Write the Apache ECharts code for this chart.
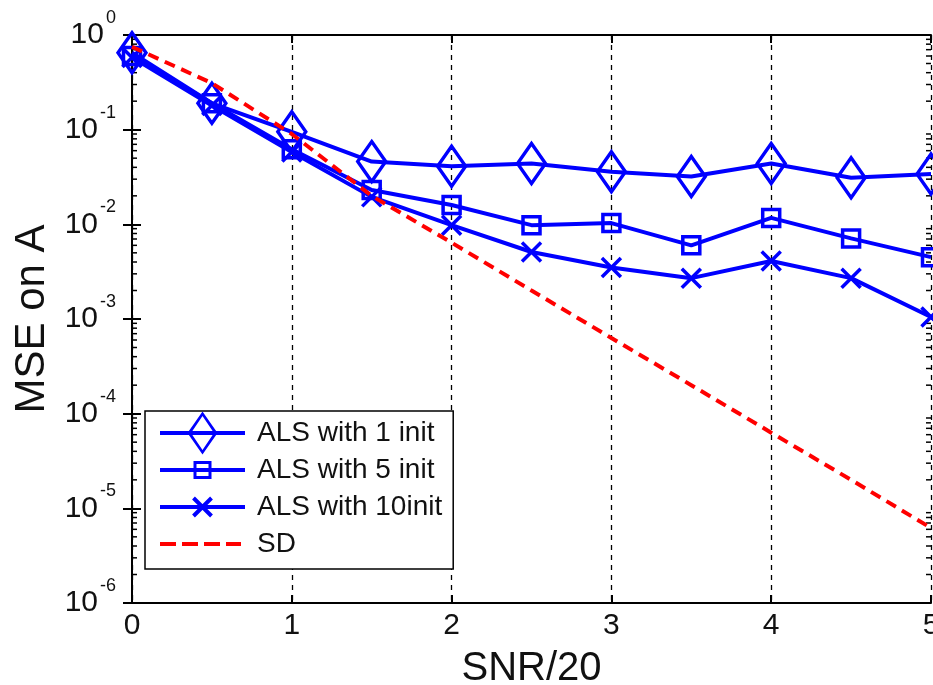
<!DOCTYPE html>
<html><head><meta charset="utf-8">
<script src="https://cdn.jsdelivr.net/npm/echarts@6/dist/echarts.min.js"></script>
<style>html,body{margin:0;padding:0;background:#fff}#c{width:933px;height:685px}</style>
</head><body><div id="c"></div>
<script>
var snr = [0, 0.5, 1, 1.5, 2, 2.5, 3, 3.5, 4, 4.5, 5];
var als1 = [0.65, 0.19, 0.095, 0.046, 0.041, 0.044, 0.036, 0.032, 0.044, 0.031, 0.034];
var als5 = [0.60, 0.19, 0.062, 0.023, 0.016, 0.0098, 0.0103, 0.0060, 0.0117, 0.0071, 0.0045];
var als10 = [0.58, 0.18, 0.058, 0.0195, 0.0098, 0.0051, 0.0035, 0.0027, 0.0041, 0.0027, 0.00105];
var sd = [0.75, 0.31, 0.09, 0.02, 0.0064, 0.002, 0.00063, 0.0002, 0.000063, 0.00002, 0.0000062];
var seriesNames = ['ALS with 1 init', 'ALS with 5 init', 'ALS with 10init', 'SD'];
var xTicks = [0, 1, 2, 3, 4, 5];

var minorVals = [];
for (var k = -6; k < 0; k++) for (var m = 2; m <= 9; m++) minorVals.push([m * Math.pow(10, k)]);

function pair(xs, ys) { return xs.map(function (x, i) { return [x, ys[i]]; }); }
var FONT = 'Liberation Sans, Arial, sans-serif';
var BLUE = '#0000ff';
var RED = '#ff0000';

// legend icons (line + marker), drawn in a 85 x 44 box
var BOUNDS = 'M0,0L0.01,0L0.01,0.01ZM84.99,43.99L85,43.99L85,44Z';
var LINE = 'M0,20L85,20L85,24L0,24Z';
var iconDiamond = 'path://' + BOUNDS + LINE +
  'M42.5,0.5L57.5,22L42.5,43.5L27.5,22Z' +
  'M42.5,5L31,22L42.5,39L54,22Z';
var iconSquare = 'path://' + BOUNDS + LINE +
  'M33.5,13L51.5,13L51.5,31L33.5,31Z' +
  'M36.5,16L36.5,28L48.5,28L48.5,16Z';
var iconCross = 'path://' + BOUNDS + LINE +
  'M34.9,11.6L52.9,29.6L50.1,32.4L32.1,14.4Z' +
  'M52.9,14.4L34.9,32.4L32.1,29.6L50.1,11.6Z';
var iconDash = 'path://' + BOUNDS +
  'M0,20L16,20L16,24L0,24Z' +
  'M22,20L38,20L38,24L22,24Z' +
  'M44,20L60,20L60,24L44,24Z' +
  'M66,20L81,20L81,24L66,24Z';

var chart = echarts.init(document.getElementById('c'));
var ylab = function (v) {
  var e = Math.round(Math.log10(v));
  return '{b|10}{s|' + e + '}';
};
chart.setOption({
  animation: false,
  backgroundColor: '#fff',
  textStyle: { fontFamily: FONT },
  grid: { left: 132, top: 35, right: 2, bottom: 82, containLabel: false, outerBoundsMode: 'none' },
  xAxis: [{
    type: 'value', min: 0, max: 5, interval: 1,
    name: 'SNR/20', nameLocation: 'middle', nameGap: 46,
    nameTextStyle: { fontSize: 40, color: '#111', fontFamily: FONT },
    axisLine: { onZero: false, lineStyle: { color: '#000', width: 2 } },
    axisTick: { inside: true, length: 8, lineStyle: { color: '#000', width: 2 } },
    axisLabel: { fontSize: 30, color: '#111', margin: 8, fontFamily: FONT },
    splitLine: { show: true, lineStyle: { color: '#000', type: [5, 5], width: 1.3 } }
  }, {
    type: 'value', min: 0, max: 5, interval: 1, position: 'top',
    axisLine: { onZero: false, lineStyle: { color: '#000', width: 2 } },
    axisTick: { inside: true, length: 8, lineStyle: { color: '#000', width: 2 } },
    axisLabel: { show: false }, splitLine: { show: false }
  }],
  yAxis: [{
    type: 'log', min: 1e-6, max: 1, logBase: 10, interval: 1,
    name: 'MSE on A', nameLocation: 'middle', nameGap: 76, nameRotate: 90,
    nameTextStyle: { fontSize: 42, color: '#111', fontFamily: FONT },
    axisLine: { lineStyle: { color: '#000', width: 2 } },
    axisTick: { inside: true, length: 9, lineStyle: { color: '#000', width: 2 } },
    axisLabel: {
      margin: 16, color: '#111', formatter: ylab,
      rich: {
        b: { fontSize: 30, color: '#111', fontFamily: FONT, verticalAlign: 'bottom', padding: [0, 0, 11, 0] },
        s: { fontSize: 18, color: '#111', fontFamily: FONT, verticalAlign: 'bottom', padding: [0, 0, 34, 2] }
      }
    },
    splitLine: { show: false }
  }, {
    type: 'log', min: 1e-6, max: 1, logBase: 10, interval: 1, position: 'right',
    axisLine: { lineStyle: { color: '#000', width: 2 } },
    axisTick: { inside: true, length: 9, lineStyle: { color: '#000', width: 2 } },
    axisLabel: { show: false }, splitLine: { show: false }
  }],
  legend: {
    data: [
      { name: seriesNames[0], icon: iconDiamond, itemStyle: { color: BLUE, borderWidth: 0 } },
      { name: seriesNames[1], icon: iconSquare, itemStyle: { color: BLUE, borderWidth: 0 } },
      { name: seriesNames[2], icon: iconCross, itemStyle: { color: BLUE, borderWidth: 0 } },
      { name: seriesNames[3], icon: iconDash, itemStyle: { color: RED, borderWidth: 0 } }
    ],
    orient: 'vertical', left: 145, top: 411,
    backgroundColor: '#fff', borderColor: '#000', borderWidth: 1.5,
    padding: [0, 11, 3, 15], itemGap: -7, itemWidth: 85, itemHeight: 44,
    textStyle: { fontSize: 28, color: '#111', fontFamily: FONT, padding: [0, 0, 0, 7] }
  },
  series: [{
    name: seriesNames[0], type: 'line', data: pair(snr, als1),
    symbol: 'diamond', symbolSize: [28, 40],
    lineStyle: { color: BLUE, width: 4 },
    itemStyle: { color: 'rgba(0,0,0,0)', borderColor: BLUE, borderWidth: 3.5 }, z: 5
  }, {
    name: seriesNames[1], type: 'line', data: pair(snr, als5),
    symbol: 'rect', symbolSize: 17,
    lineStyle: { color: BLUE, width: 4 },
    itemStyle: { color: 'rgba(0,0,0,0)', borderColor: BLUE, borderWidth: 3.5 }, z: 5
  }, {
    name: seriesNames[2], type: 'line', data: pair(snr, als10),
    symbol: 'path://M0,0L10,10M10,0L0,10', symbolSize: 19,
    lineStyle: { color: BLUE, width: 4 },
    itemStyle: { color: 'rgba(0,0,0,0)', borderColor: BLUE, borderWidth: 3.5 }, z: 5
  }, {
    name: seriesNames[3], type: 'line', data: pair(snr, sd),
    symbol: 'none', showSymbol: false,
    lineStyle: { color: RED, width: 4, type: [11, 7] },
    itemStyle: { color: RED }, z: 6
  }, {
    type: 'custom', silent: true, clip: false, z: 3,
    data: minorVals,
    encode: { y: 0 },
    renderItem: function (params, api) {
      var v = api.value(0);
      var l = api.coord([0, v]);
      var r = api.coord([5, v]);
      var st = { stroke: '#000', lineWidth: 1.5 };
      return {
        type: 'group', children: [
          { type: 'line', shape: { x1: l[0], y1: l[1], x2: l[0] + 5, y2: l[1] }, style: st },
          { type: 'line', shape: { x1: r[0], y1: r[1], x2: r[0] - 5, y2: r[1] }, style: st }
        ]
      };
    }
  }]
});
</script></body></html>
